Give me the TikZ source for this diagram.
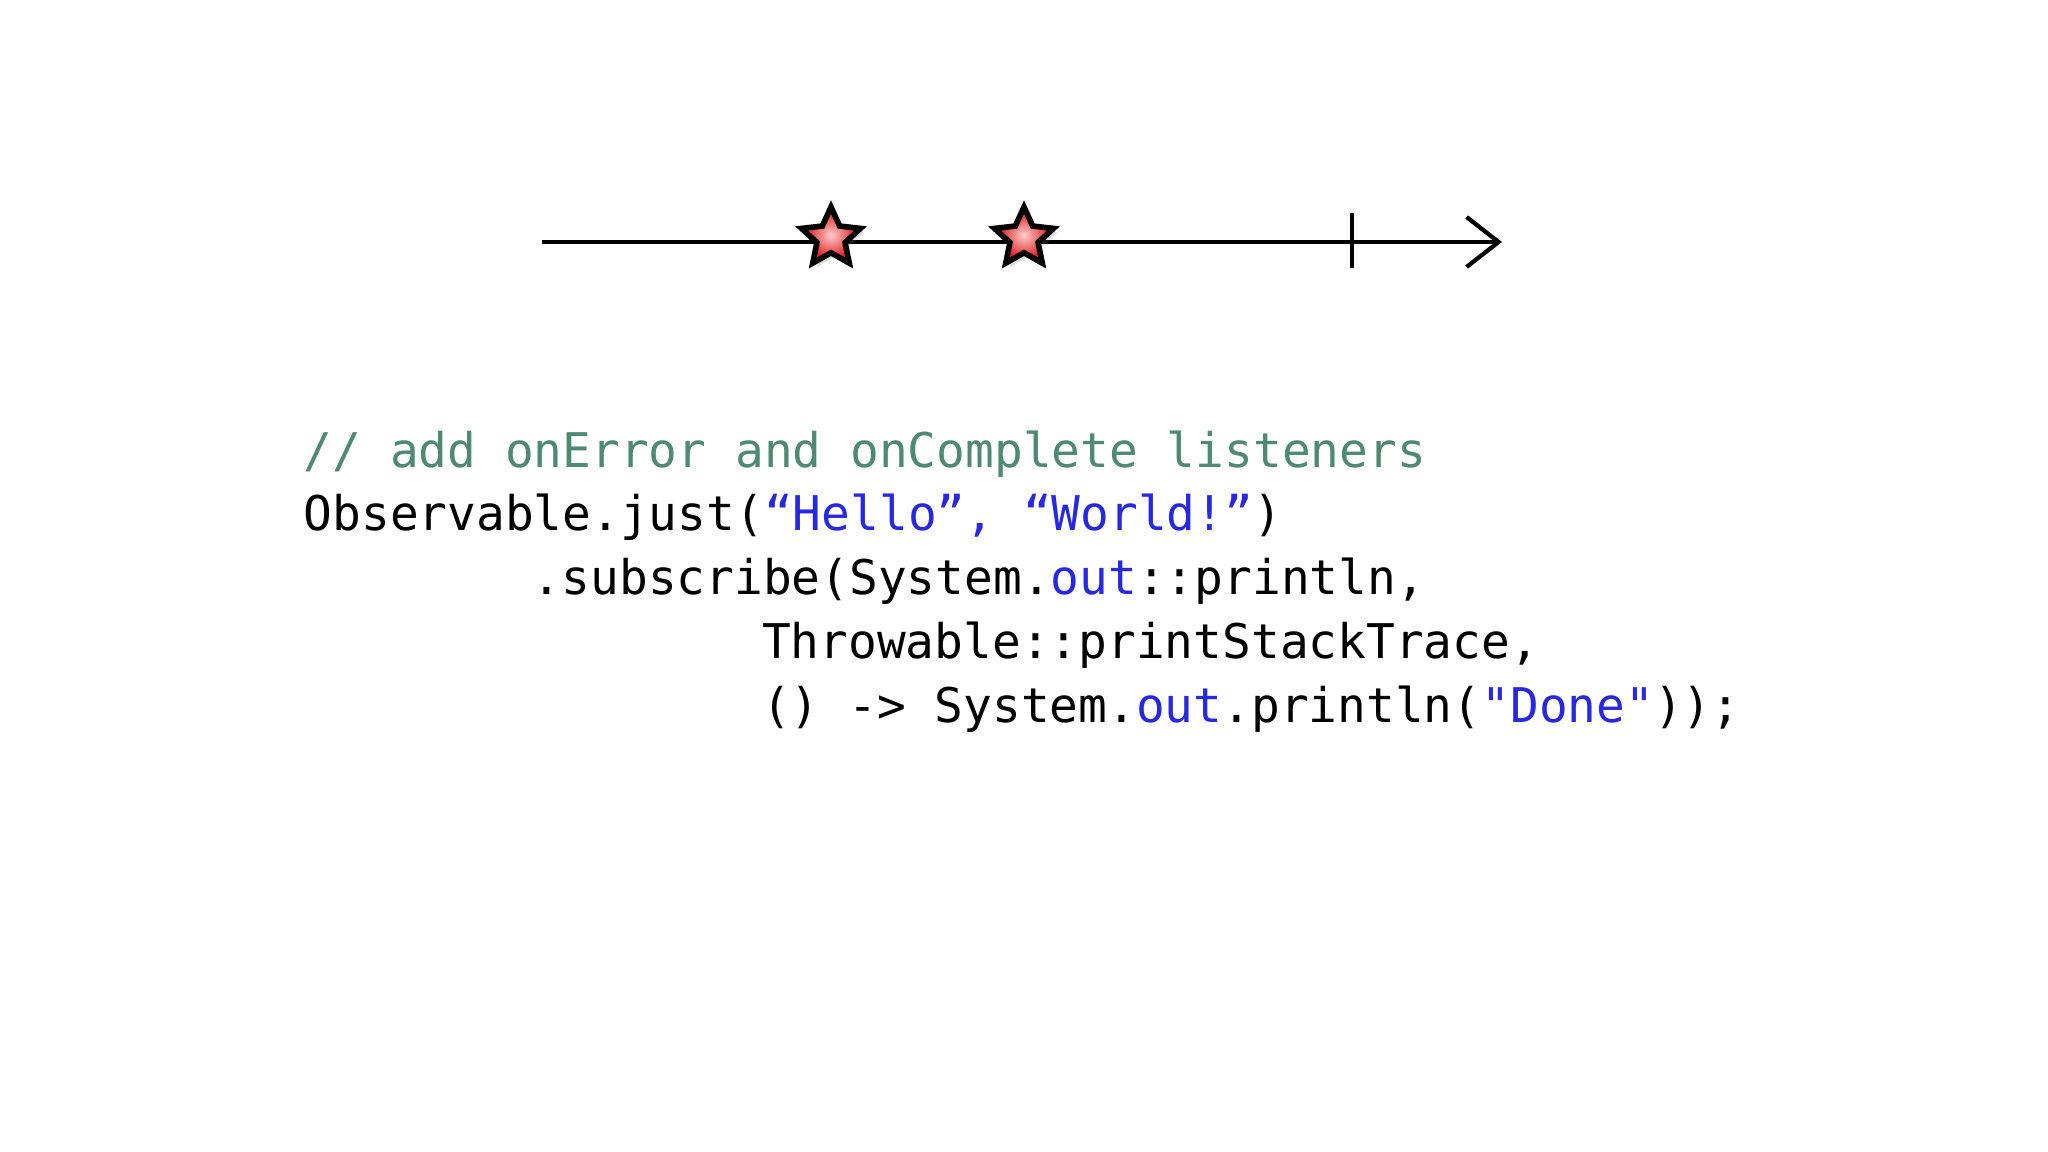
\documentclass[tikz,border=0pt]{standalone}
\usepackage{fontspec}
\setmonofont{DejaVu Sans Mono}
\usetikzlibrary{shapes.geometric,arrows.meta,shadows}
\definecolor{cmt}{RGB}{78,138,114}
\definecolor{kw}{RGB}{40,40,225}
\tikzset{
  evstar/.style={star,star points=5,star point ratio=2.1,minimum size=0.62cm,inner sep=0pt,draw=black,line width=1.6pt,
    inner color=red!20,outer color=red!85!black,drop shadow={opacity=0.25,shadow xshift=0.04cm,shadow yshift=-0.04cm}},
  tline/.style={line width=1.2pt},
  code/.style={anchor=base west,inner sep=0pt,font=\ttfamily\fontsize{13.6}{16}\selectfont}
}
\begin{document}
\begin{tikzpicture}[x=1cm,y=1cm]
\useasboundingbox[fill=white] (0,0) rectangle (20.48,-11.52);
\coordinate (s) at (5.42,-2.42);
\coordinate (e) at (15.02,-2.42);
\draw[tline,-{Straight Barb[length=0.32cm,width=0.5cm,line width=1.2pt]}] (s) -- (e);
\coordinate (t1) at (13.52,-2.13);
\coordinate (t2) at (13.52,-2.68);
\draw[tline] (t1) -- (t2);
\node[evstar] (a) at (8.31,-2.38) {};
\node[evstar] (b) at (10.24,-2.38) {};
\def\cw{0.2865}
\node[code,text=cmt] (l1) at (3.03,-4.67) {// add onError and onComplete listeners};
\node[code] (l2) at (3.03,-5.31) {Observable.just(\textcolor{kw}{“Hello”, “World!”})};
\node[code] (l3) at (3.03+8*\cw,-5.95) {.subscribe(System.\textcolor{kw}{out}::println,};
\node[code] (l4) at (3.03+16*\cw,-6.59) {Throwable::printStackTrace,};
\node[code] (l5) at (3.03+16*\cw,-7.23) {() -> System.\textcolor{kw}{out}.println(\textcolor{kw}{"Done"}));};
\end{tikzpicture}
\end{document}
